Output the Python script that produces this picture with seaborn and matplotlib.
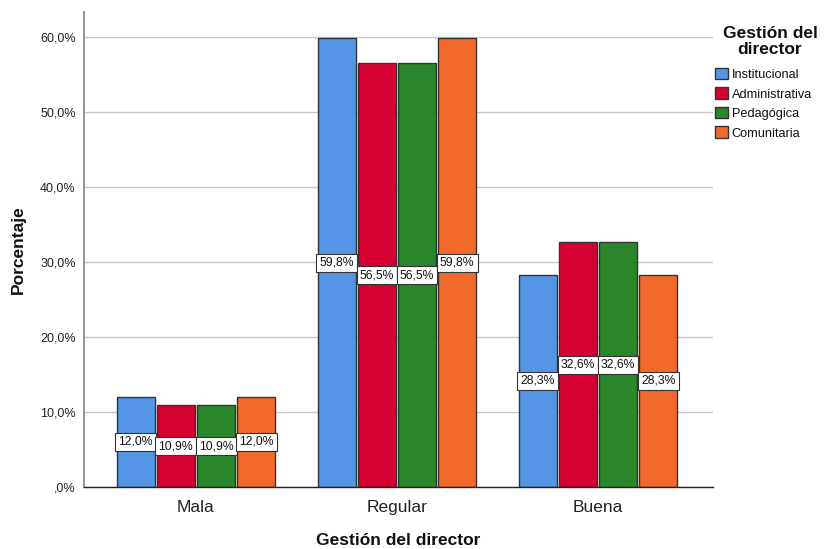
import matplotlib
matplotlib.use("Agg")
import matplotlib.pyplot as plt
import seaborn as sns
import pandas as pd
from matplotlib.patches import Patch

categories = ["Mala", "Regular", "Buena"]
series = ["Institucional", "Administrativa", "Pedagógica", "Comunitaria"]
institucional = [12.0, 59.8, 28.3]
administrativa = [10.9, 56.5, 32.6]
pedagogica = [10.9, 56.5, 32.6]
comunitaria = [12.0, 59.8, 28.3]
yticks = [0, 10, 20, 30, 40, 50, 60]
ytick_labels = [",0%", "10,0%", "20,0%", "30,0%", "40,0%", "50,0%", "60,0%"]
colors = ["#5595e6", "#d50032", "#2a862a", "#f26a2b"]

values = [institucional, administrativa, pedagogica, comunitaria]
df = pd.DataFrame(
    [(c, s, v[i]) for s, v in zip(series, values) for i, c in enumerate(categories)],
    columns=["categoria", "gestion", "porcentaje"],
)

sns.set_style("white")
plt.rcParams["font.family"] = ["Liberation Sans", "DejaVu Sans"]

W, H = 825, 549
fig = plt.figure(figsize=(W / 100, H / 100), dpi=100)
ax = fig.add_axes([84 / W, 62 / H, 629 / W, 475 / H])

sns.barplot(
    data=df, x="categoria", y="porcentaje", hue="gestion",
    order=categories, hue_order=series, palette=colors,
    errorbar=None, width=0.8, gap=0.05,
    edgecolor="#333333", linewidth=1.0, saturation=1, ax=ax, legend=False,
)

for container in ax.containers:
    labels = [f"{b.get_height():.1f}%".replace(".", ",") for b in container]
    ax.bar_label(
        container, labels=labels, label_type="center", fontsize=8.8,
        color="#111111",
        bbox=dict(boxstyle="square,pad=0.25", facecolor="white",
                  edgecolor="#333333", linewidth=0.8),
    )

ax.set_ylim(0, 63.33)
ax.set_xlim(-0.557, 2.572)
ax.set_yticks(yticks)
ax.set_yticklabels(ytick_labels, fontsize=9, color="#222222")
# category names share one baseline
ax.tick_params(axis="x", labelsize=12.5, length=0, pad=18, colors="#222222")
for lbl in ax.get_xticklabels():
    lbl.set_verticalalignment("baseline")
ax.tick_params(axis="y", length=0, pad=6)
ax.yaxis.grid(True, color="#c8c8c8", linewidth=1)
ax.set_axisbelow(True)

for side in ["top", "right"]:
    ax.spines[side].set_visible(False)
ax.spines["left"].set_color("#999999")
ax.spines["left"].set_linewidth(1.5)
ax.spines["bottom"].set_color("#222222")
ax.spines["bottom"].set_linewidth(1.0)

ax.set_xlabel("Gestión del director", fontsize=12.5, fontweight="bold",
              labelpad=13, color="#111111")
ax.set_ylabel("Porcentaje", fontsize=12.5, fontweight="bold",
              labelpad=10, color="#111111")

# legend title drawn separately so it can sit centred above the entries
fig.text(770 / W, 1 - 26 / H, "Gestión del\ndirector", ha="center", va="top",
         fontsize=12.5, fontweight="bold", color="#111111", linespacing=1.1)

handles = [Patch(facecolor=c, edgecolor="#333333", linewidth=1.0) for c in colors]
leg = fig.legend(
    handles, series,
    loc="upper left", bbox_to_anchor=(715 / W, 1 - 68 / H), frameon=False,
    fontsize=9.2, handlelength=1.05, handleheight=1.0, handletextpad=0.25,
    labelspacing=0.5, borderaxespad=0, borderpad=0,
)
for t in leg.get_texts():
    t.set_color("#111111")

fig.savefig("out.png", dpi=100)
